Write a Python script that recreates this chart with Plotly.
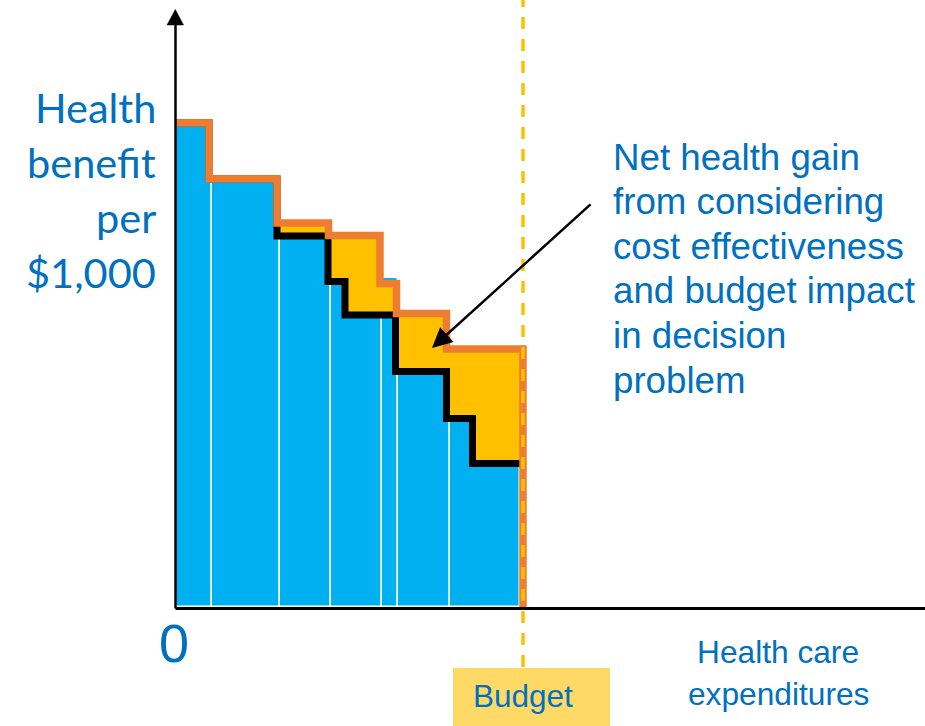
import plotly.graph_objects as go

# Programme blocks funded in order of cost effectiveness (x: spending, y: benefit per $1,000)
bar_edges = [0, 3.57, 10.4, 15.47, 20.57, 22.23, 27.4, 34.35]
bar_heights = [48.4, 42.8, 37.1, 32.55, 32.9, 23.55, 18.85]

# Upper frontier: allocation that considers cost effectiveness and budget impact
upper_edges = [0, 3.3, 10.1, 15.25, 20.4, 22.05, 27.05, 34.7]
upper_levels = [48.4, 42.8, 38.4, 37.15, 32.35, 29.35, 25.8]

# Lower frontier: allocation without that consideration
lower_edges = [0, 3.3, 10.1, 15.2, 16.9, 21.95, 27.05, 29.65, 34.7]
lower_levels = [48.4, 42.8, 37.1, 32.55, 29.2, 23.55, 18.85, 14.35]

budget = 34.7

y_label_lines = ["Health", "benefit", "per", "$1,000"]
note_lines = ["Net health gain", "from considering", "cost effectiveness",
              "and budget impact", "in decision", "problem"]
x_label_lines = ["Health care", "expenditures"]

BLUE = "#00B0F0"
ORANGE = "#ED7D31"
GOLD = "#FFC000"
TEXT = "#0070C0"


def stairs(edges, levels):
    xs, ys = [], []
    for i, lv in enumerate(levels):
        xs += [edges[i], edges[i + 1]]
        ys += [lv, lv]
    return xs, ys


ux, uy = stairs(upper_edges, upper_levels)
lx, ly = stairs(lower_edges, lower_levels)

mids = [(a + b) / 2 for a, b in zip(bar_edges[:-1], bar_edges[1:])]
widths = [b - a for a, b in zip(bar_edges[:-1], bar_edges[1:])]

fig = go.Figure()

fig.add_trace(go.Bar(
    x=mids, y=bar_heights, width=widths,
    marker=dict(color=BLUE, line=dict(color="white", width=1.5)),
    hoverinfo="skip", showlegend=False,
))

# Gain region between the two frontiers
fig.add_trace(go.Scatter(
    x=ux + lx[::-1], y=uy + ly[::-1],
    fill="toself", fillcolor=GOLD, mode="lines", line=dict(width=0),
    hoverinfo="skip", showlegend=False,
))

fig.add_trace(go.Scatter(
    x=lx, y=ly, mode="lines", line=dict(color="black", width=7),
    hoverinfo="skip", showlegend=False,
))

fig.add_trace(go.Scatter(
    x=ux + [budget], y=uy + [0], mode="lines", line=dict(color=ORANGE, width=7.5),
    hoverinfo="skip", showlegend=False,
))

shapes = [
    # budget line
    dict(type="line", xref="x", yref="y", x0=budget, x1=budget, y0=-6.0, y1=60.7,
         line=dict(color=GOLD, width=3.5, dash="12px,10px"), layer="above"),
    # budget label box
    dict(type="rect", xref="x", yref="y", x0=27.7, x1=43.4, y0=-6.1, y1=-12.5,
         fillcolor="#FFD966", line=dict(width=0), layer="above"),
    # axes
    dict(type="line", xref="x", yref="y", x0=-0.05, x1=74.9, y0=-0.15, y1=-0.15,
         line=dict(color="black", width=3), layer="above"),
    dict(type="line", xref="x", yref="y", x0=-0.05, x1=-0.05, y0=-0.15, y1=58.3,
         line=dict(color="black", width=2.5), layer="above"),
    dict(type="path", xref="x", yref="y",
         path="M -0.9 58.2 L 0.75 58.2 L -0.07 59.75 Z",
         fillcolor="black", line=dict(color="black", width=0.5), layer="above"),
]

annotations = []
for i, t in enumerate(y_label_lines):
    annotations.append(dict(
        x=-1.85, y=(607 - (106.5 + 55.3 * i)) / 10, xref="x", yref="y",
        text=t, showarrow=False, xanchor="right", yanchor="middle",
        font=dict(family="Lato", size=41.5, color=TEXT)))

for i, t in enumerate(note_lines):
    annotations.append(dict(
        x=43.5, y=(607 - (157 + 44.6 * i)) / 10, xref="x", yref="y",
        text=t, showarrow=False, xanchor="left", yanchor="middle",
        font=dict(family="Liberation Sans, Arial", size=36.7, color=TEXT)))

for i, t in enumerate(x_label_lines):
    annotations.append(dict(
        x=60.2, y=(607 - (651.5 + 42.5 * i)) / 10, xref="x", yref="y",
        text=t, showarrow=False, xanchor="center", yanchor="middle",
        font=dict(family="Liberation Sans, Arial", size=31.7, color=TEXT)))

annotations.append(dict(
    x=-0.2, y=-3.55, xref="x", yref="y", text="0", showarrow=False,
    xanchor="center", yanchor="middle",
    font=dict(family="Liberation Sans, Arial", size=54, color=TEXT)))

annotations.append(dict(
    x=budget, y=-8.9, xref="x", yref="y", text="Budget", showarrow=False,
    xanchor="center", yanchor="middle",
    font=dict(family="Liberation Sans, Arial", size=31.5, color=TEXT)))

# Pointer to the gain region
annotations.append(dict(
    x=25.6, y=25.9, ax=41.6, ay=40.4, xref="x", yref="y", axref="x", ayref="y",
    text="", showarrow=True, arrowhead=2, arrowsize=1.6, arrowwidth=2.5,
    arrowcolor="black", standoff=0))

fig.update_layout(
    width=925, height=726,
    margin=dict(l=0, r=0, t=0, b=0),
    paper_bgcolor="white", plot_bgcolor="white",
    xaxis=dict(range=[-17.6, 74.9], visible=False, fixedrange=True),
    yaxis=dict(range=[-11.9, 60.7], visible=False, fixedrange=True),
    shapes=shapes, annotations=annotations,
    showlegend=False, bargap=0,
)

fig.write_html("out.html")
